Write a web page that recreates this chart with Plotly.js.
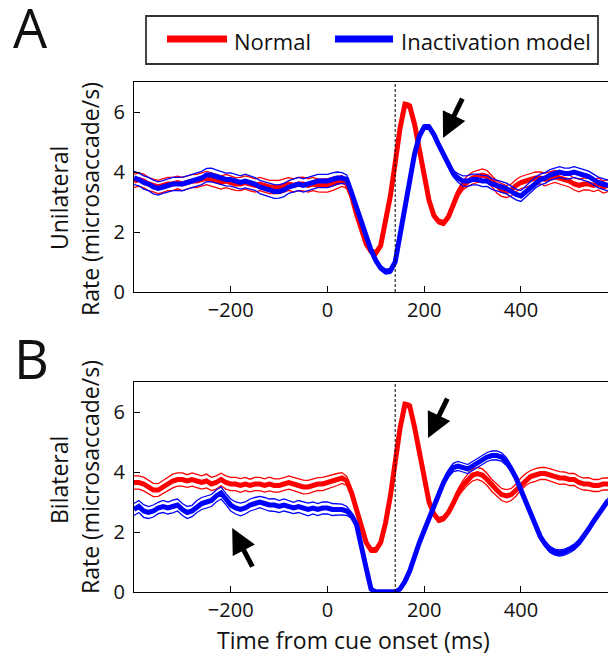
<!DOCTYPE html>
<html><head><meta charset="utf-8">
<script src="https://cdn.plot.ly/plotly-3.0.1.min.js"></script>
<style>html,body{margin:0;padding:0;background:#fff;overflow:hidden}</style>
</head><body><div id="chart" style="width:608px;height:655px"></div>
<script>
// time from cue onset (ms)
const time = [
-400,-390,-380,-370,-360,-350,-340,-330,-320,-310,
-300,-290,-280,-270,-260,-250,-240,-230,-220,-210,
-200,-190,-180,-170,-160,-150,-140,-130,-120,-110,
-100,-90,-80,-70,-60,-50,-40,-30,-20,-10,
0,10,20,30,40,50,60,70,80,90,
100,110,120,130,140,150,160,170,180,190,
200,210,220,230,240,250,260,270,280,290,
300,310,320,330,340,350,360,370,380,390,
400,410,420,430,440,450,460,470,480,490,
500,510,520,530,540,550,560,570,580];

// Panel A (unilateral) - Normal
const uniNormal = [
3.7,3.75,3.7,3.6,3.55,3.5,3.55,3.6,3.6,3.65,
3.6,3.65,3.7,3.7,3.75,3.8,3.75,3.7,3.65,3.7,
3.65,3.6,3.6,3.65,3.6,3.55,3.6,3.55,3.5,3.5,
3.5,3.55,3.6,3.55,3.6,3.6,3.55,3.6,3.55,3.55,
3.55,3.6,3.65,3.7,3.6,3.2,2.6,2.1,1.6,1.35,
1.3,1.55,2.3,3.2,4.3,5.45,6.25,6.2,5.6,4.7,
3.8,3.05,2.55,2.35,2.3,2.5,2.9,3.3,3.55,3.7,
3.8,3.85,3.9,3.85,3.7,3.5,3.4,3.35,3.4,3.55,
3.65,3.7,3.75,3.8,3.8,3.75,3.8,3.85,3.8,3.75,
3.7,3.6,3.55,3.6,3.6,3.55,3.6,3.5,3.55];
const uniNormalSem = [
0.22,0.22,0.23,0.22,0.21,0.22,0.23,0.22,0.22,0.21,
0.22,0.22,0.21,0.22,0.23,0.22,0.22,0.21,0.22,0.22,
0.22,0.21,0.22,0.22,0.23,0.22,0.22,0.21,0.22,0.22,
0.22,0.22,0.21,0.22,0.22,0.23,0.22,0.22,0.21,0.22,
0.22,0.22,0.2,0.18,0.15,0.1,0.08,0.08,0.08,0.08,
0.08,0.08,0.08,0.08,0.08,0.08,0.08,0.08,0.08,0.08,
0.08,0.08,0.08,0.08,0.08,0.09,0.1,0.12,0.15,0.18,
0.2,0.21,0.2,0.2,0.19,0.2,0.21,0.2,0.2,0.2,
0.2,0.21,0.2,0.2,0.2,0.21,0.2,0.2,0.2,0.2,
0.2,0.2,0.21,0.2,0.2,0.2,0.2,0.2,0.2];

// Panel A (unilateral) - Inactivation model
const uniModel = [
3.8,3.75,3.65,3.6,3.5,3.45,3.5,3.55,3.6,3.6,
3.6,3.65,3.7,3.75,3.8,3.9,3.9,3.85,3.8,3.75,
3.75,3.7,3.65,3.7,3.65,3.6,3.5,3.45,3.4,3.35,
3.35,3.4,3.5,3.55,3.6,3.55,3.6,3.65,3.7,3.7,
3.7,3.75,3.8,3.8,3.75,3.3,2.8,2.3,1.8,1.4,
1.05,0.8,0.68,0.7,1.0,1.8,2.8,3.7,4.6,5.2,
5.5,5.5,5.25,4.9,4.55,4.25,3.95,3.8,3.7,3.7,
3.75,3.75,3.7,3.7,3.6,3.55,3.5,3.45,3.35,3.25,
3.2,3.35,3.5,3.65,3.75,3.8,3.9,3.95,4.0,3.95,
3.95,4.0,3.95,3.9,3.85,3.75,3.65,3.6,3.55];
const uniModelSem = [
0.22,0.21,0.22,0.22,0.23,0.22,0.21,0.22,0.22,0.22,
0.23,0.22,0.22,0.21,0.22,0.22,0.23,0.22,0.22,0.21,
0.22,0.22,0.22,0.23,0.22,0.21,0.22,0.22,0.22,0.23,
0.22,0.22,0.21,0.22,0.22,0.22,0.23,0.22,0.22,0.21,
0.22,0.22,0.2,0.18,0.15,0.1,0.08,0.08,0.08,0.08,
0.08,0.08,0.08,0.08,0.08,0.08,0.08,0.08,0.08,0.08,
0.08,0.08,0.08,0.08,0.08,0.09,0.11,0.14,0.17,0.18,
0.18,0.18,0.19,0.18,0.18,0.18,0.17,0.18,0.18,0.18,
0.18,0.18,0.19,0.18,0.18,0.18,0.18,0.19,0.18,0.18,
0.18,0.18,0.18,0.19,0.18,0.18,0.18,0.18,0.18];

// Panel B (bilateral) - Normal
const biNormal = [
3.65,3.65,3.6,3.5,3.4,3.4,3.5,3.6,3.7,3.75,
3.75,3.7,3.75,3.7,3.65,3.7,3.6,3.65,3.75,3.65,
3.6,3.6,3.55,3.6,3.55,3.6,3.6,3.55,3.6,3.55,
3.55,3.6,3.65,3.6,3.55,3.5,3.5,3.55,3.6,3.6,
3.65,3.7,3.75,3.8,3.7,3.3,2.75,2.15,1.65,1.4,
1.4,1.65,2.3,3.2,4.35,5.45,6.25,6.2,5.5,4.6,
3.7,3.0,2.6,2.4,2.45,2.65,2.95,3.3,3.55,3.75,
3.9,3.95,3.9,3.75,3.55,3.4,3.25,3.2,3.25,3.4,
3.6,3.75,3.85,3.9,3.95,3.95,3.9,3.85,3.8,3.8,
3.75,3.75,3.65,3.6,3.6,3.55,3.55,3.6,3.6];
const biNormalSem = [
0.22,0.22,0.23,0.22,0.22,0.21,0.22,0.22,0.23,0.22,
0.22,0.21,0.22,0.22,0.22,0.23,0.22,0.22,0.21,0.22,
0.22,0.22,0.23,0.22,0.21,0.22,0.22,0.22,0.23,0.22,
0.22,0.21,0.22,0.22,0.22,0.23,0.22,0.22,0.21,0.22,
0.22,0.22,0.2,0.18,0.15,0.1,0.08,0.08,0.08,0.08,
0.08,0.08,0.08,0.08,0.08,0.08,0.08,0.08,0.08,0.08,
0.08,0.08,0.08,0.08,0.08,0.09,0.1,0.13,0.16,0.18,
0.2,0.2,0.21,0.2,0.2,0.2,0.2,0.21,0.2,0.2,
0.2,0.2,0.2,0.21,0.2,0.2,0.2,0.2,0.21,0.2,
0.2,0.2,0.2,0.2,0.21,0.2,0.2,0.2,0.2];

// Panel B (bilateral) - Inactivation model
const biModel = [
2.75,2.85,2.7,2.65,2.7,2.8,2.85,2.8,2.85,2.9,
2.75,2.65,2.7,2.85,2.95,3.0,3.05,3.2,3.3,3.1,
2.9,2.8,2.75,2.8,2.9,2.95,3.0,2.95,2.9,2.9,
2.85,2.9,2.85,2.8,2.85,2.8,2.75,2.8,2.75,2.8,
2.8,2.75,2.75,2.75,2.7,2.55,2.25,1.6,0.8,0.1,
0.0,0.0,0.0,0.0,0.0,0.1,0.35,0.7,1.2,1.65,
2.05,2.45,2.9,3.3,3.65,3.95,4.15,4.2,4.15,4.1,
4.2,4.3,4.4,4.5,4.55,4.55,4.5,4.35,4.1,3.8,
3.4,3.0,2.6,2.2,1.85,1.6,1.42,1.33,1.3,1.33,
1.4,1.5,1.65,1.85,2.1,2.35,2.6,2.85,3.05];
const biModelSem = [
0.2,0.2,0.21,0.2,0.2,0.19,0.2,0.2,0.21,0.2,
0.2,0.2,0.19,0.2,0.2,0.21,0.2,0.2,0.2,0.19,
0.2,0.2,0.21,0.2,0.2,0.2,0.19,0.2,0.2,0.21,
0.2,0.2,0.2,0.19,0.2,0.2,0.21,0.2,0.2,0.2,
0.2,0.2,0.19,0.18,0.15,0.1,0.07,0.06,0.06,0.06,
0.06,0.06,0.06,0.06,0.06,0.06,0.06,0.06,0.06,0.06,
0.06,0.06,0.07,0.08,0.1,0.12,0.14,0.15,0.15,0.15,
0.15,0.15,0.16,0.15,0.15,0.15,0.14,0.13,0.11,0.09,
0.08,0.08,0.08,0.08,0.08,0.09,0.1,0.1,0.1,0.1,
0.1,0.1,0.09,0.09,0.08,0.08,0.08,0.08,0.08];

const xTicks = [-200, 0, 200, 400];
const yTicks = [0, 2, 4, 6];
const seriesNames = ['Normal', 'Inactivation model'];
const panelRows = ['Unilateral', 'Bilateral'];
const cueLine = 140;

const RED = '#ff0000', BLUE = '#0000ff';
const W = 608, H = 655;
const px = x => x / W, py = y => 1 - y / H;
const FONT = 'Open Sans, Noto Sans, sans-serif';

function series(t, m, s, color, xa, ya) {
  const up = m.map((v, i) => v + s[i]);
  const lo = m.map((v, i) => v - s[i]);
  const base = {x: t, type: 'scatter', mode: 'lines', xaxis: xa, yaxis: ya, showlegend: false, hoverinfo: 'skip'};
  return [
    Object.assign({}, base, {y: up, line: {color: color, width: 1.3}}),
    Object.assign({}, base, {y: lo, line: {color: color, width: 1.3}}),
    Object.assign({}, base, {y: m, line: {color: color, width: 5}})
  ];
}

const data = [].concat(
  series(time, uniNormal, uniNormalSem, RED, 'x', 'y'),
  series(time, uniModel, uniModelSem, BLUE, 'x', 'y'),
  series(time, biNormal, biNormalSem, RED, 'x2', 'y2'),
  series(time, biModel, biModelSem, BLUE, 'x2', 'y2')
);

function xax(anchor) {
  return {domain: [px(134), 1], range: [-400, 580], anchor: anchor, tickvals: xTicks,
    ticks: 'inside', ticklen: 6, tickwidth: 1, tickcolor: '#000', showline: true, linecolor: '#000',
    linewidth: 1, mirror: true, showgrid: false, zeroline: false, automargin: false,
    tickfont: {family: FONT, size: 20, color: '#111'}, fixedrange: true};
}
function yax(anchor, top, bottom) {
  return {domain: [py(bottom), py(top)], range: [0, 7], anchor: anchor, tickvals: yTicks,
    ticks: 'inside', ticklen: 6, tickwidth: 1, tickcolor: '#000', showline: true, linecolor: '#000',
    linewidth: 1, mirror: false, showgrid: false, zeroline: false, automargin: false,
    ticklabelstandoff: 4,
    tickfont: {family: FONT, size: 20, color: '#111'}, fixedrange: true};
}

const txt = (text, x, y, size, extra) => Object.assign({text: text, xref: 'paper', yref: 'paper',
  x: px(x), y: py(y), xanchor: 'center', yanchor: 'middle', showarrow: false,
  font: {family: FONT, size: size, color: '#111'}}, extra || {});

const arrow = (xr, yr, x, y, ax, ay) => ({xref: xr, yref: yr, x: x, y: y, ax: ax, ay: ay, text: '',
  showarrow: true, arrowhead: 2, arrowsize: 1, arrowwidth: 5, arrowcolor: '#000', standoff: 0});

const layout = {
  width: W, height: H, margin: {l: 0, r: 0, t: 0, b: 0}, paper_bgcolor: '#fff', plot_bgcolor: '#fff',
  showlegend: false,
  xaxis: xax('y'), yaxis: yax('x', 82, 292),
  xaxis2: xax('y2'), yaxis2: yax('x2', 382, 592),
  shapes: [
    {type: 'line', xref: 'x', yref: 'y domain', x0: cueLine, x1: cueLine, y0: 0, y1: 1, line: {color: '#000', width: 1, dash: '3px,2px'}},
    {type: 'line', xref: 'x2', yref: 'y2 domain', x0: cueLine, x1: cueLine, y0: 0, y1: 1, line: {color: '#000', width: 1, dash: '3px,2px'}},
    {type: 'rect', xref: 'paper', yref: 'paper', x0: px(146), x1: px(598), y0: py(64), y1: py(16), line: {color: '#333', width: 1.8}},
    {type: 'line', xref: 'paper', yref: 'paper', x0: px(167), x1: px(227), y0: py(39), y1: py(39), line: {color: RED, width: 7}},
    {type: 'line', xref: 'paper', yref: 'paper', x0: px(335), x1: px(393), y0: py(39), y1: py(39), line: {color: BLUE, width: 7}}
  ],
  annotations: [
    txt('A', 30, 27, 54),
    txt('B', 31, 358, 54),
    txt(seriesNames[0], 232, 41, 22, {xanchor: 'left'}),
    txt(seriesNames[1], 399, 41, 22, {xanchor: 'left'}),
    txt(panelRows[0], 59, 198, 23, {textangle: -90}),
    txt('Rate (microsaccade/s)', 90, 199, 23, {textangle: -90}),
    txt(panelRows[1], 59, 480, 23, {textangle: -90}),
    txt('Rate (microsaccade/s)', 90, 477, 23, {textangle: -90}),
    txt('Time from cue onset (ms)', 353, 640, 23),
    arrow('x', 'y', 239, 5.13, 20, -41),
    arrow('x2', 'y2', 208, 5.13, 20, -41),
    arrow('x2', 'y2', -197, 2.13, 21, 40)
  ]
};

Plotly.newPlot('chart', data, layout, {staticPlot: true, displayModeBar: false});
</script></body></html>
